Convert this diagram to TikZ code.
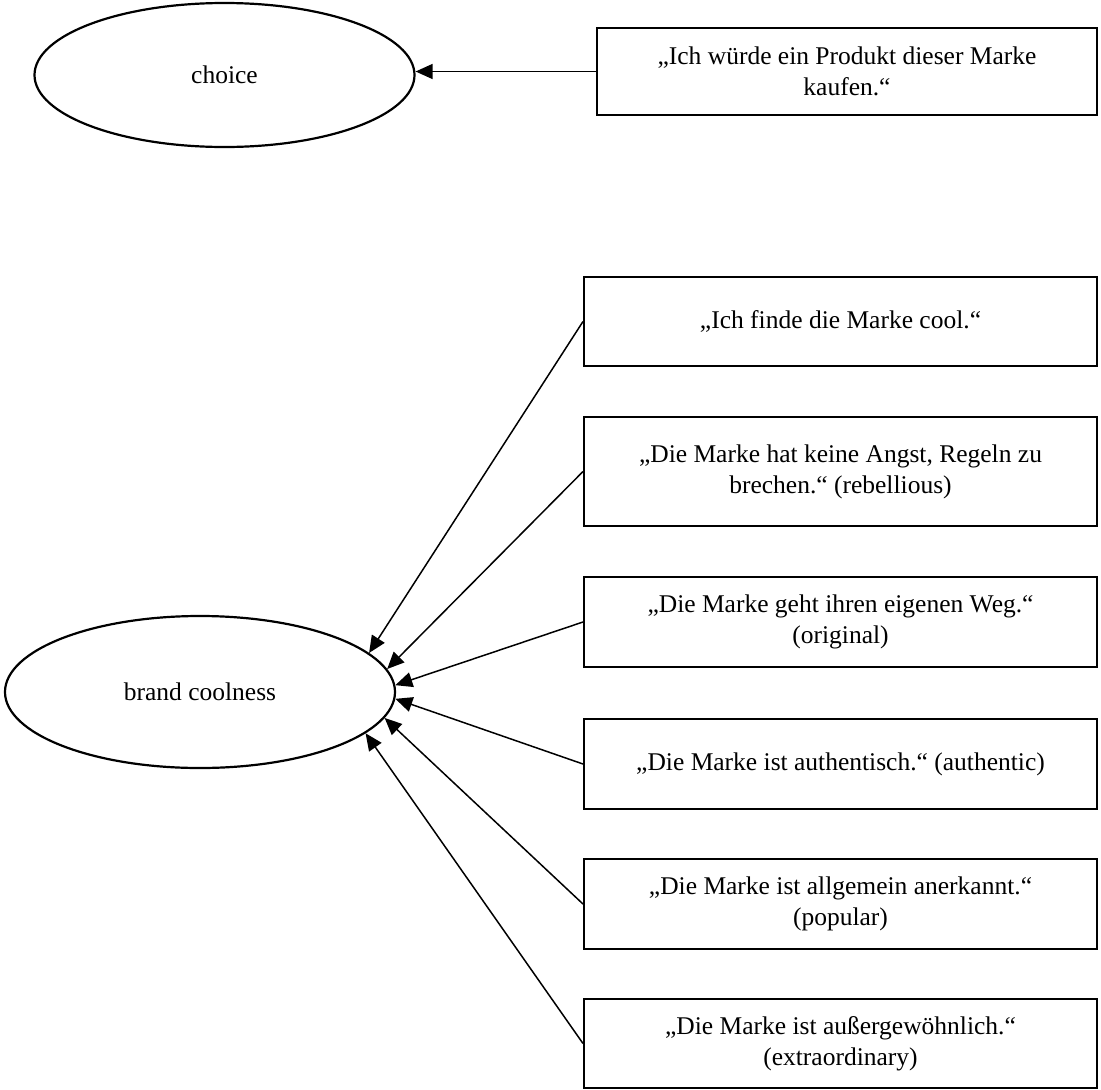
\documentclass[tikz,border=0pt]{standalone}
\usepackage{fontspec}
\setmainfont{Liberation Serif}
\usetikzlibrary{shapes.geometric,arrows.meta}

\tikzset{
  construct/.style={ellipse, draw, line width=2.2pt, inner sep=0pt,
    font=\fontsize{25.5}{31}\selectfont},
  item/.style={rectangle, draw, line width=2pt, inner sep=0pt, align=center,
    font=\fontsize{25.5}{31}\selectfont},
  load/.style={line width=1.5pt, -{Triangle[length=17pt,width=15pt]}}
}

\begin{document}
\begin{tikzpicture}[x=1pt,y=-1pt]
  \useasboundingbox (0,0) rectangle (1101,1090);

  % latent constructs
  \node[construct, minimum width=380pt, minimum height=144pt] (ch) at (224.5,75) {choice};
  \node[construct, minimum width=390pt, minimum height=152pt] (bc) at (200,692) {brand coolness};

  % indicator for choice
  \node[item, minimum width=500pt, minimum height=87pt] (q0) at (847,71.5)
    {„Ich würde ein Produkt dieser Marke\\kaufen.“};

  % indicators for brand coolness
  \node[item, minimum width=513pt, minimum height=89pt]  (q1) at (840.5,321.5) {„Ich finde die Marke cool.“};
  \node[item, minimum width=513pt, minimum height=109pt] (q2) at (840.5,471.5) {„Die Marke hat keine Angst, Regeln zu\\brechen.“ (rebellious)};
  \node[item, minimum width=513pt, minimum height=90pt]  (q3) at (840.5,622)   {„Die Marke geht ihren eigenen Weg.“\\(original)};
  \node[item, minimum width=513pt, minimum height=90pt]  (q4) at (840.5,764)   {„Die Marke ist authentisch.“ (authentic)};
  \node[item, minimum width=513pt, minimum height=90pt]  (q5) at (840.5,904)   {„Die Marke ist allgemein anerkannt.“\\(popular)};
  \node[item, minimum width=513pt, minimum height=89pt]  (q6) at (840.5,1043.5) {„Die Marke ist außergewöhnlich.“\\(extraordinary)};

  % loadings
  \draw[load] (q0.west) -- (q0.west -| ch.east);
  \draw[load] (q1.west) -- (bc.13.5);
  \draw[load] (q2.west) -- (bc.7.7);
  \draw[load] (q3.west) -- (bc.2.3);
  \draw[load] (q4.west) -- (bc.-2.9);
  \draw[load] (q5.west) -- (bc.-8.6);
  \draw[load] (q6.west) -- (bc.-14.4);
\end{tikzpicture}
\end{document}
